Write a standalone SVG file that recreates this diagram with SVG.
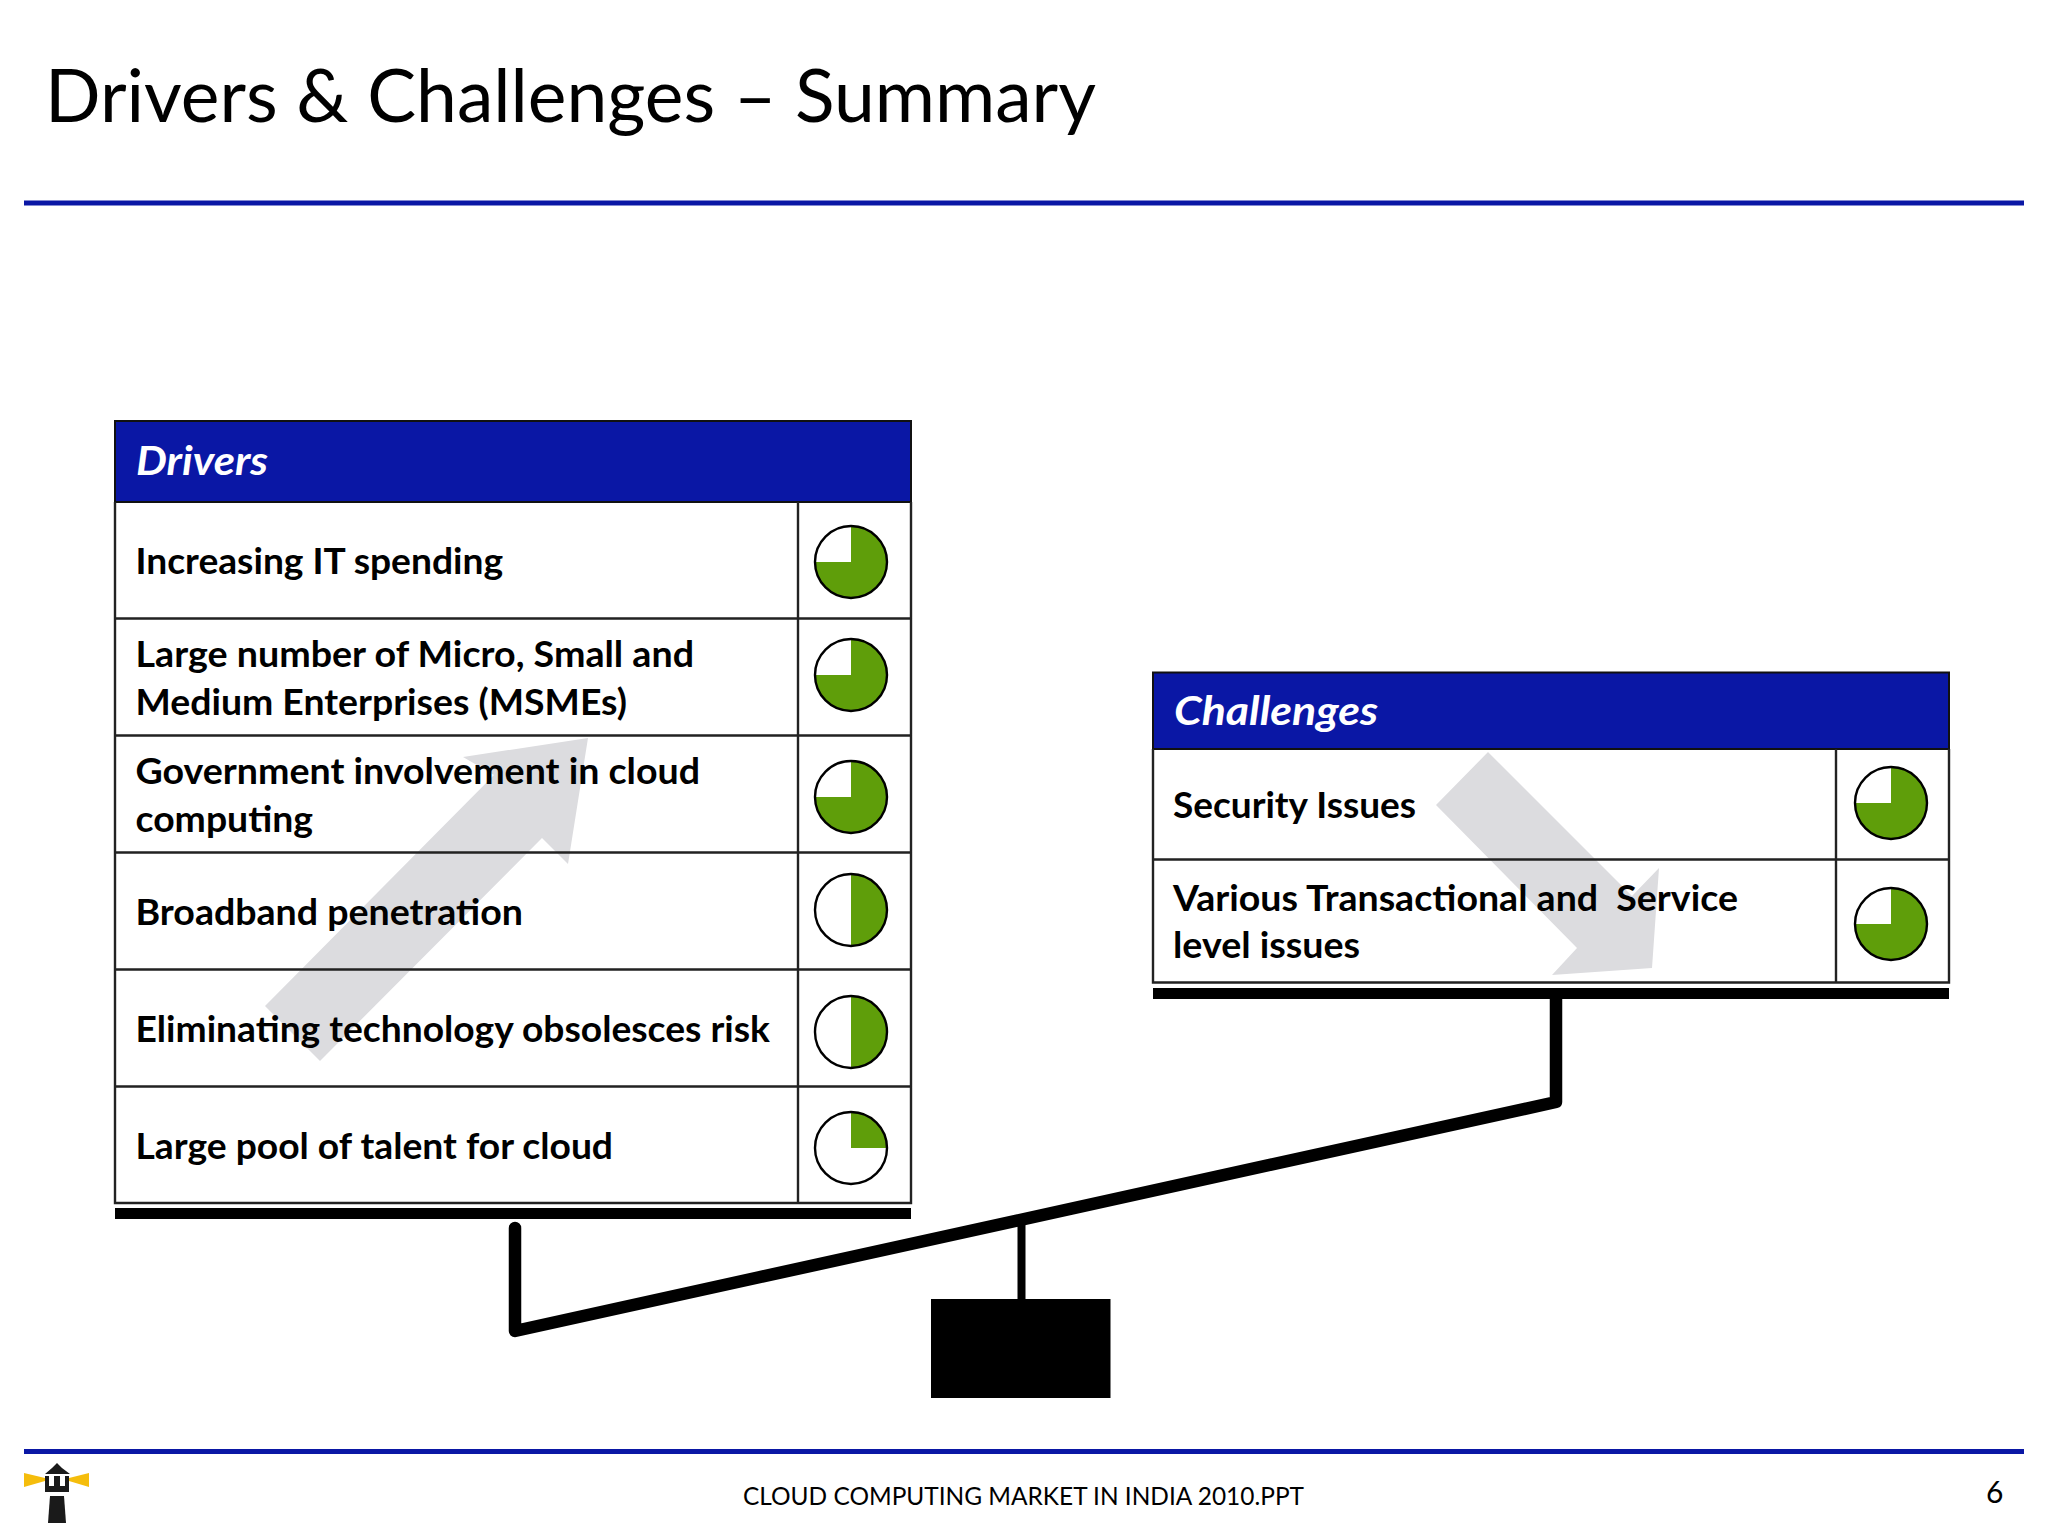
<svg xmlns="http://www.w3.org/2000/svg" width="2048" height="1536" viewBox="0 0 2048 1536">
<style>
text{font-family:"Lato","Carlito","Liberation Sans",sans-serif;fill:#000;white-space:pre}
.t{font-size:36px;font-weight:700}
.h{font-size:41px;font-weight:700;font-style:italic;fill:#fff}
.title{font-size:73px;font-family:"Lato","Liberation Sans",sans-serif}
.foot{font-size:25px}
.rule{fill:#0a17a5}
.hd{fill:#0a17a5;stroke:#111;stroke-width:2}
.cell{fill:none;stroke:#222;stroke-width:2.4}
.arrow{fill:#dcdcdf}
.bar{fill:#000}
.g{fill:#5f9e0a}
.o{fill:none;stroke:#000;stroke-width:2.4}
.lever{fill:none;stroke:#000;stroke-width:12.5;stroke-linecap:round;stroke-linejoin:round}
</style>
<defs>
<g id="p75"><circle r="36" fill="#fff"/><path class="g" d="M0 0V-36A36 36 0 1 1 -36 0Z"/><circle class="o" r="36"/></g>
<g id="p50"><circle r="36" fill="#fff"/><path class="g" d="M0 -36A36 36 0 0 1 0 36Z"/><circle class="o" r="36"/></g>
<g id="p25"><circle r="36" fill="#fff"/><path class="g" d="M0 0V-36A36 36 0 0 1 36 0Z"/><circle class="o" r="36"/></g>
</defs>
<rect width="2048" height="1536" fill="#fff"/>
<g id="header">
<text class="title" x="45" y="122" textLength="1051" lengthAdjust="spacingAndGlyphs">Drivers &amp; Challenges – Summary</text>
<rect class="rule" x="24" y="200.5" width="2000" height="5"/>
</g>
<g id="arrows">
<polygon class="arrow" points="588,738 463,757 494,775 265,1006 320,1061 542,838 568,864"/>
<polygon class="arrow" points="1488,752 1436,805 1577,948 1552,975 1652,968 1659,868 1632,896"/>
</g>
<g id="drivers">
<rect class="hd" x="115" y="421" width="796" height="81"/>
<text class="h" x="136" y="475" textLength="132" lengthAdjust="spacingAndGlyphs">Drivers</text>
<path class="cell" d="M115 502V1203H911V502M115 618.500H911M115 735.500H911M115 852.500H911M115 969.500H911M115 1086.500H911M798 502V1203"/>
<text class="t" x="135.500" y="574" textLength="367.500" lengthAdjust="spacingAndGlyphs">Increasing IT spending</text>
<text class="t" x="135.500" y="667" textLength="558.500" lengthAdjust="spacingAndGlyphs">Large number of Micro, Small and</text>
<text class="t" x="135.500" y="715" textLength="491.500" lengthAdjust="spacingAndGlyphs">Medium Enterprises (MSMEs)</text>
<text class="t" x="135.500" y="784" textLength="564.500" lengthAdjust="spacingAndGlyphs">Government involvement in cloud</text>
<text class="t" x="135.500" y="832" textLength="177.500" lengthAdjust="spacingAndGlyphs">computing</text>
<text class="t" x="135.500" y="925" textLength="387.500" lengthAdjust="spacingAndGlyphs">Broadband penetration</text>
<text class="t" x="135.500" y="1042" textLength="634.500" lengthAdjust="spacingAndGlyphs">Eliminating technology obsolesces risk</text>
<text class="t" x="135.500" y="1159" textLength="477.500" lengthAdjust="spacingAndGlyphs">Large pool of talent for cloud</text>
<use href="#p75" x="851" y="562"/>
<use href="#p75" x="851" y="675"/>
<use href="#p75" x="851" y="797"/>
<use href="#p50" x="851" y="910"/>
<use href="#p50" x="851" y="1032"/>
<use href="#p25" x="851" y="1148"/>
<rect class="bar" x="115" y="1208" width="796" height="11"/>
</g>
<g id="challenges">
<rect class="hd" x="1153" y="672.500" width="796" height="76.500"/>
<text class="h" x="1174" y="725" textLength="204" lengthAdjust="spacingAndGlyphs">Challenges</text>
<path class="cell" d="M1153 749V982.500H1949V749M1153 859.500H1949M1836 749V982.500"/>
<text class="t" x="1173" y="818" textLength="243" lengthAdjust="spacingAndGlyphs">Security Issues</text>
<text class="t" x="1173" y="911" textLength="565" lengthAdjust="spacingAndGlyphs">Various Transactional and  Service</text>
<text class="t" x="1173" y="958" textLength="187" lengthAdjust="spacingAndGlyphs">level issues</text>
<use href="#p75" x="1891" y="803"/>
<use href="#p75" x="1891" y="924"/>
<rect class="bar" x="1153" y="988" width="796" height="11"/>
</g>
<g id="connectors">
<path class="lever" d="M515 1228V1331L1556 1102V995"/>
<rect class="bar" x="1017.500" y="1215" width="8" height="90"/>
</g>
<g id="weight"><rect class="bar" x="931" y="1299" width="179.500" height="99"/></g>
<g id="footer">
<rect class="rule" x="24" y="1449" width="2000" height="5"/>
<text class="foot" x="743" y="1505" textLength="561" lengthAdjust="spacingAndGlyphs">CLOUD COMPUTING MARKET IN INDIA 2010.PPT</text>
<text class="foot" x="1986" y="1503" style="font-size:30px">6</text>
<g id="logo">
<polygon fill="#f5bd0c" points="24,1473 45,1478 45,1481 24,1487"/>
<polygon fill="#f5bd0c" points="89,1473 69,1478 69,1481 89,1487"/>
<polygon fill="#1a1a1a" points="57,1463 62,1468 70,1474 45,1474 52,1468"/>
<path fill="#1a1a1a" d="M45 1476H49V1486H54V1476H60V1486H65V1476H69V1492H45Z"/>
<polygon fill="#1a1a1a" points="50,1496 64,1496 66,1523 48,1523"/>
</g>
</g>
</svg>
